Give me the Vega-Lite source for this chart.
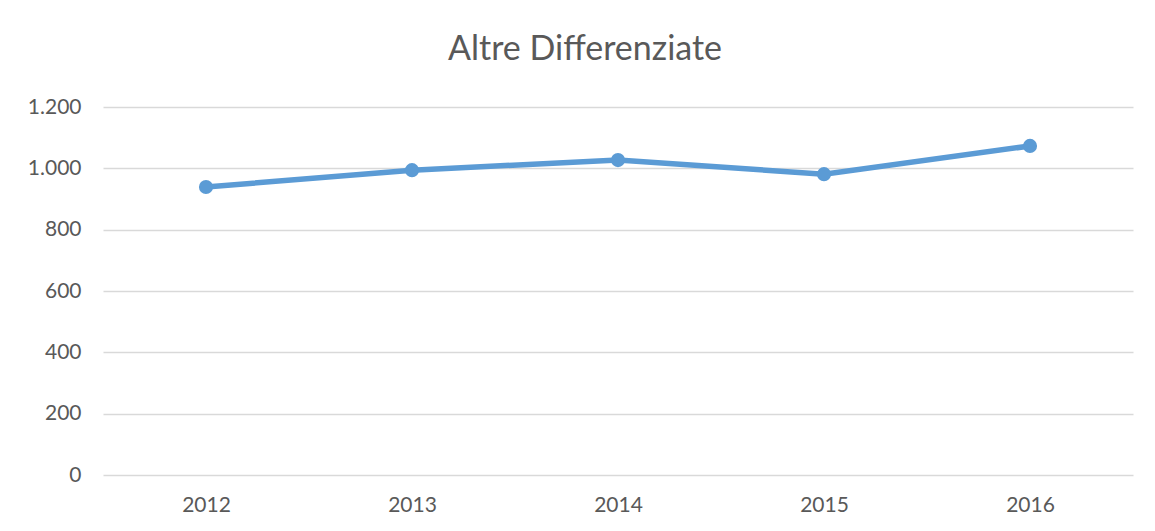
{
  "$schema": "https://vega.github.io/schema/vega-lite/v6.json",
  "width": 1030,
  "height": 368,
  "autosize": {"type": "none"},
  "padding": {"left": 103, "top": 107, "right": 22, "bottom": 56},
  "background": "white",
  "config": {
    "view": {"stroke": null},
    "font": "Lato"
  },
  "title": {
    "text": "Altre Differenziate",
    "font": "Lato",
    "fontSize": 34,
    "fontWeight": "normal",
    "color": "#595959",
    "offset": 29,
    "dx": -33,
    "anchor": "middle"
  },
  "data": {
    "values": [
      {"anno": "2012", "valore": 939},
      {"anno": "2013", "valore": 994},
      {"anno": "2014", "valore": 1027},
      {"anno": "2015", "valore": 981},
      {"anno": "2016", "valore": 1073}
    ]
  },
  "encoding": {
    "x": {
      "field": "anno",
      "type": "ordinal",
      "scale": {"type": "point", "padding": 0.5},
      "axis": {
        "title": null,
        "labelAngle": 0,
        "labelFont": "Lato",
        "labelFontSize": 21,
        "labelColor": "#595959",
        "labelPadding": 19,
        "ticks": false,
        "domain": false,
        "grid": false
      }
    },
    "y": {
      "field": "valore",
      "type": "quantitative",
      "scale": {"domain": [0, 1200]},
      "axis": {
        "title": null,
        "values": [0, 200, 400, 600, 800, 1000, 1200],
        "labelExpr": "replace(format(datum.value, ','), ',', '.')",
        "labelFont": "Lato",
        "labelFontSize": 21,
        "labelColor": "#595959",
        "labelPadding": 22,
        "ticks": false,
        "domain": false,
        "grid": true,
        "gridColor": "#D9D9D9",
        "gridWidth": 1.5
      }
    }
  },
  "layer": [
    {"mark": {"type": "line", "color": "#5B9BD5", "strokeWidth": 5.5, "strokeCap": "round"}},
    {"mark": {"type": "point", "filled": true, "color": "#5B9BD5", "opacity": 1, "size": 200}}
  ]
}
